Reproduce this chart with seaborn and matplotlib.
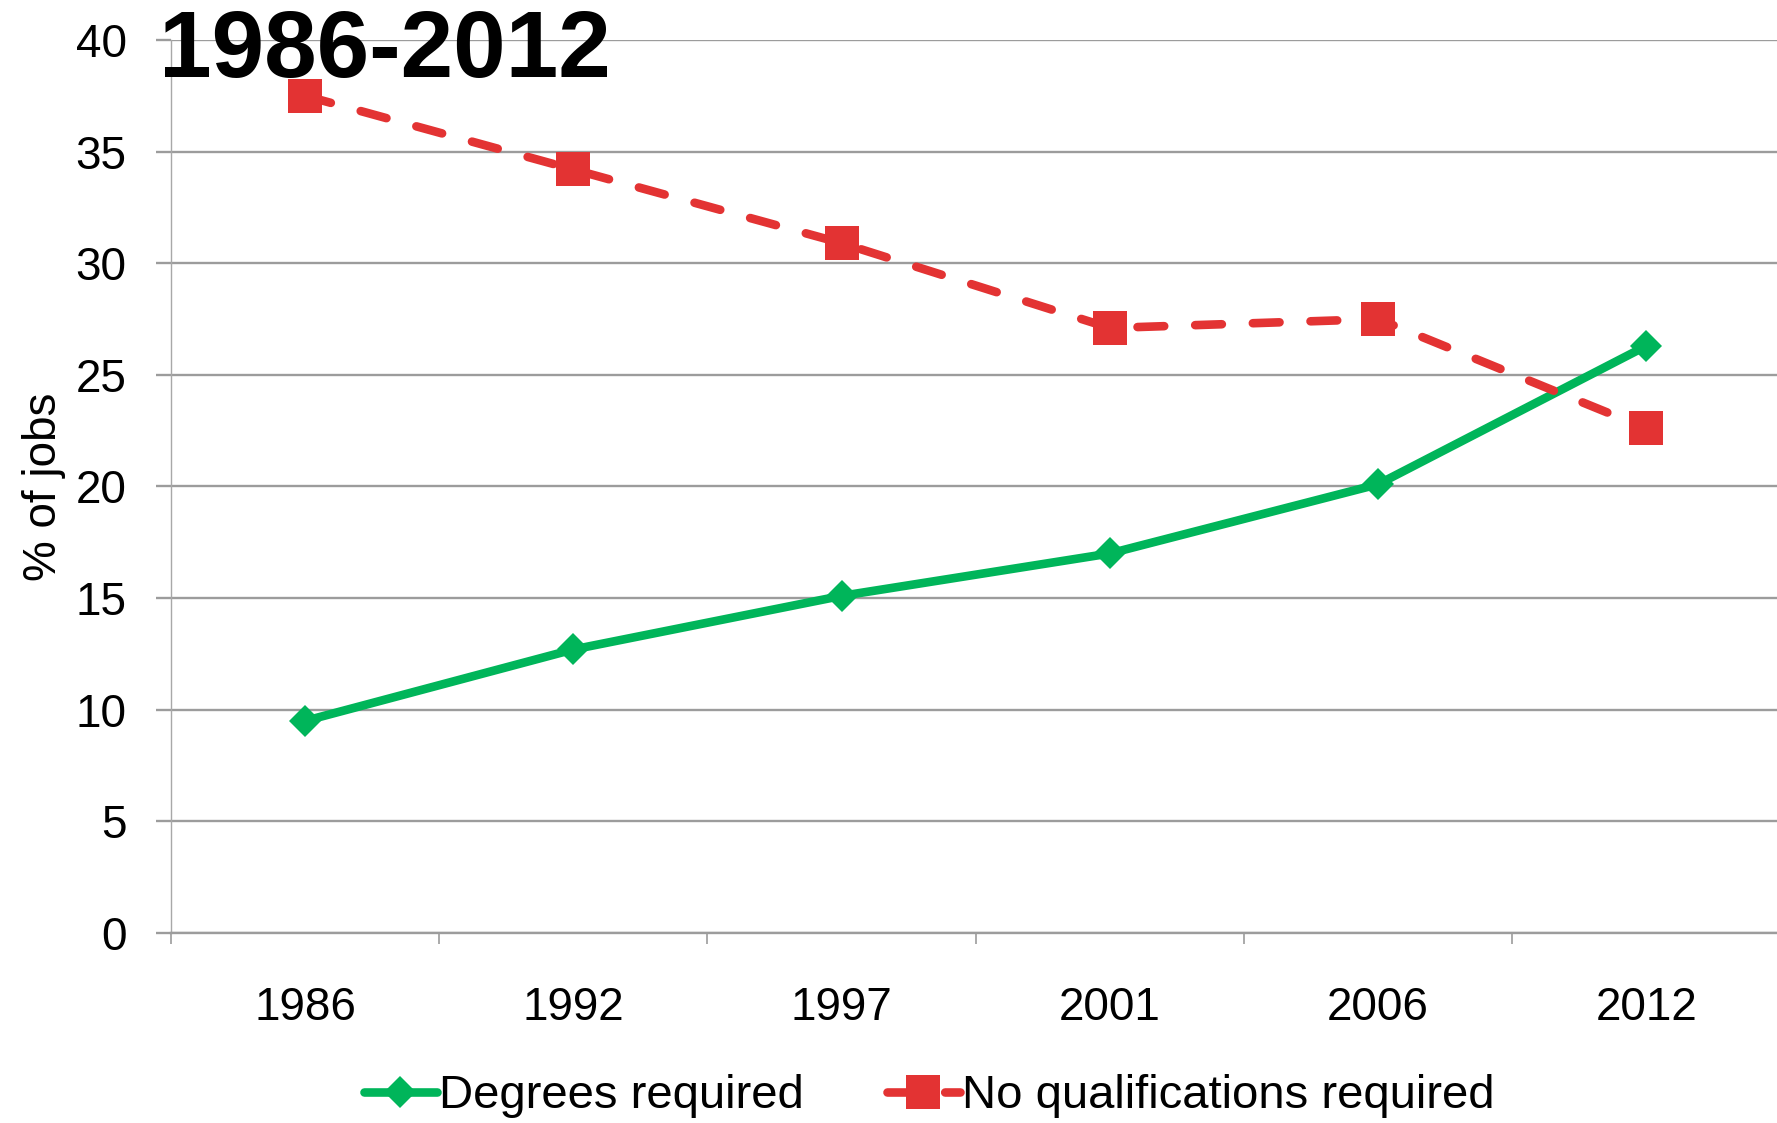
import matplotlib
matplotlib.use("Agg")
import matplotlib.pyplot as plt
import seaborn as sns
import pandas as pd
import numpy as np

# Share of jobs by qualification requirement
years = ["1986", "1992", "1997", "2001", "2006", "2012"]
degrees_required = [9.5, 12.7, 15.1, 17.0, 20.1, 26.3]
no_qualifications = [37.5, 34.2, 30.9, 27.1, 27.5, 22.6]
y_ticks = [0, 5, 10, 15, 20, 25, 30, 35, 40]

GREEN = "#00B55A"
RED = "#E33333"
GRID = "#9C9C9C"

sns.set_theme(style="white")
plt.rcParams["font.family"] = ["Liberation Sans", "DejaVu Sans"]
plt.rcParams["text.color"] = "black"
plt.rcParams["axes.labelcolor"] = "black"
plt.rcParams["xtick.color"] = "black"
plt.rcParams["ytick.color"] = "black"

df = pd.DataFrame({
    "year": years,
    "Degrees required": degrees_required,
    "No qualifications required": no_qualifications,
})

fig = plt.figure(figsize=(17.77, 11.23), dpi=100)
ax = fig.add_axes([0.0962, 0.1692, 0.9058, 0.7952])

sns.lineplot(data=df, x="year", y="Degrees required", ax=ax, color=GREEN,
             linewidth=6.2, marker="D", markersize=16, markeredgewidth=0,
             markeredgecolor=GREEN, label="Degrees required", sort=False)
sns.lineplot(data=df, x="year", y="No qualifications required", ax=ax,
             color=RED, linewidth=6.2, marker="s", markersize=24,
             markeredgewidth=0, markeredgecolor=RED,
             linestyle=(0, (3.1, 3.6)), dash_capstyle="round",
             label="No qualifications required", sort=False)

ax.set_ylim(0, 40)
ax.set_xlim(-0.5, 5.5)
ax.set_yticks(y_ticks)
ax.set_yticklabels([str(t) for t in y_ticks], fontsize=33, color="black")
ax.yaxis.grid(True, color=GRID, linewidth=1.7)
ax.xaxis.grid(False)
ax.set_axisbelow(True)

# category labels centred, tick marks at the bin boundaries
ax.set_xticks(range(len(years)))
ax.set_xticklabels(years, fontsize=33, color="black")
ax.set_xticks(np.arange(-0.5, len(years), 1.0), minor=True)
ax.tick_params(axis="x", which="major", length=0, pad=38)
ax.tick_params(axis="x", which="minor", length=8, width=1.2, color=GRID,
               bottom=True)
ax.tick_params(axis="y", length=11, width=1.7, color=GRID, pad=21, left=True)

for side in ["top", "right"]:
    ax.spines[side].set_visible(False)
ax.spines["left"].set_color("#A8A8A8")
ax.spines["left"].set_linewidth(1.0)
ax.spines["bottom"].set_color(GRID)
ax.spines["bottom"].set_linewidth(1.7)

ax.set_xlabel("")
ax.set_ylabel("% of jobs", fontsize=33, labelpad=7, color="black")

handles, labels = ax.get_legend_handles_labels()
if ax.get_legend() is not None:
    ax.get_legend().remove()
fig.legend(handles, labels, loc="center", bbox_to_anchor=(0.523, 0.024),
           ncol=2, frameon=False, fontsize=34, handlelength=1.55,
           handletextpad=0.05, columnspacing=1.75, borderaxespad=0,
           labelcolor="black")

fig.text(0.0895, 0.9314, "1986-2012", fontsize=68, fontweight="bold",
         ha="left", va="baseline", color="black")

fig.savefig("out.png", dpi=100)
